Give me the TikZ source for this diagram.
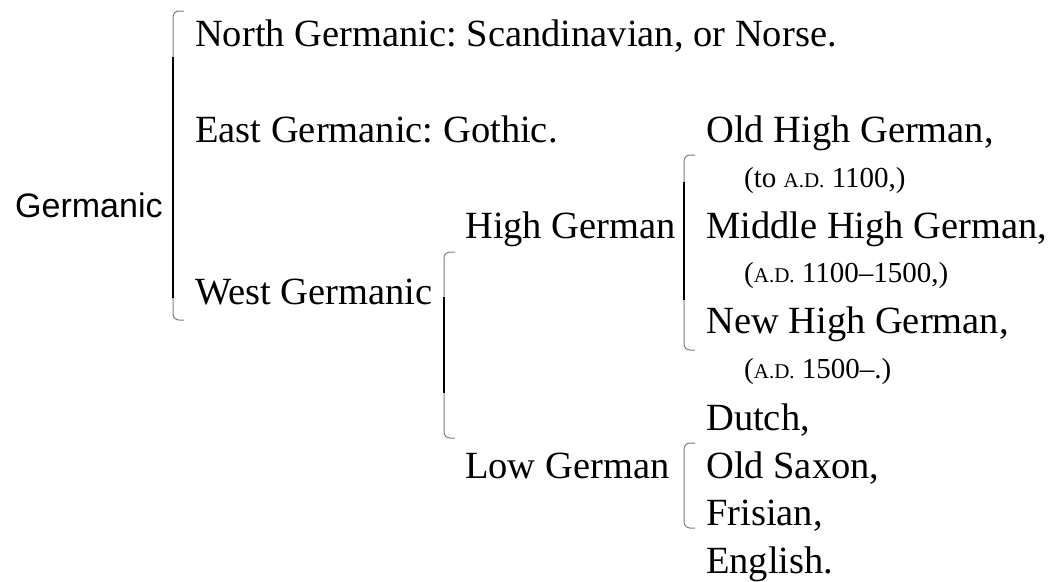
\documentclass[tikz,border=0pt]{standalone}
\usepackage{fontspec}
\setmainfont{Liberation Serif}
\newfontfamily\grsans{Liberation Sans}
\newcommand{\bigtext}{\fontsize{38.5}{42}\selectfont}
\newcommand{\smalltext}{\fontsize{29}{32}\selectfont}
\newcommand{\ad}{{\fontsize{21}{21}\selectfont A.D.}}
\frenchspacing
\tikzset{
  lang/.style={anchor=base west, inner sep=0pt, font=\bigtext},
  date/.style={anchor=base west, inner sep=0pt, font=\smalltext},
  brak/.style={draw=black!50, line width=1pt, rounded corners=6pt},
  brakmid/.style={draw=black, line width=2.2pt}
}

\begin{document}
\begin{tikzpicture}[x=1pt, y=-1pt]
        \useasboundingbox (0,0) rectangle (1049,581);
        % left column
        \node[lang, font=\grsans\fontsize{34}{38}\selectfont] (germ) at (15,217) {Germanic};
        \node[lang] (north) at (195,46) {North Germanic: Scandinavian, or Norse.};
        \node[lang] (east) at (195,142) {East Germanic: Gothic.};
        \node[lang] (west) at (195,304) {West Germanic};
        % middle column
        \node[lang] (high) at (465,238) {High German};
        \node[lang] (low) at (465,478) {Low German};
        % right column
        \node[lang] (ohg) at (706,142) {Old High German,};
        \node[date] (ohgd) at (744,187) {(to \ad\ 1100,)};
        \node[lang] (mhg) at (706,238) {Middle High German,};
        \node[date] (mhgd) at (744,282) {(\ad\ 1100--1500,)};
        \node[lang] (nhg) at (706,333) {New High German,};
        \node[date] (nhgd) at (744,378) {(\ad\ 1500--.)};
        \node[lang] (dutch) at (706,430) {Dutch,};
        \node[lang] (saxon) at (706,478) {Old Saxon,};
        \node[lang] (fris) at (706,525) {Frisian,};
        \node[lang] (engl) at (706,573) {English.};
        % brackets
        \foreach \bx/\bt/\bb in {173/11/320, 444/252/438, 684/155/350, 684/443/528}{
          \draw[brak] (\bx+11,\bt) -- (\bx,\bt) -- (\bx,\bb) -- (\bx+11,\bb);
        }
        \draw[brakmid] (173,57) -- (173,298);
        \draw[brakmid] (444,297) -- (444,393);
        \draw[brakmid] (684,182) -- (684,300);
\end{tikzpicture}
\end{document}
